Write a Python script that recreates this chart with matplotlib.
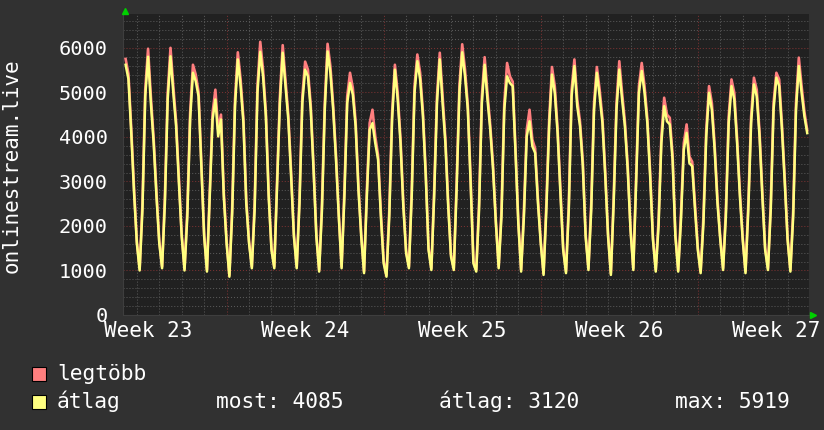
import numpy as np
import matplotlib
matplotlib.use("Agg")
import matplotlib.pyplot as plt
from matplotlib.lines import Line2D
from matplotlib.patches import Rectangle

plt.rcParams['font.family'] = ['DejaVu Sans Mono', 'DejaVu Sans']
plt.rcParams['lines.scale_dashes'] = False

# time axis in hours, 0 = monday of week 24, samples every 3 h
t_start = -108
t_step = 3

# átlag (average), one row per day, 00 03 06 09 12 15 18 21 h
avg = [
    5620, 5300, 4100, 2750,
    1610, 1000, 2360, 4910, 5800, 4760, 3860, 2660,
    1610, 1050, 2510, 4840, 5810, 4990, 4240, 2960,
    1760, 1000, 2210, 4390, 5440, 5250, 4910, 3340,
    1760, 975, 2660, 4390, 4840, 4010, 4390, 2660,
    1610, 860, 2290, 4690, 5740, 5140, 4310, 2510,
    1610, 1050, 2360, 4990, 5910, 5360, 4460, 2660,
    1460, 1050, 2890, 4760, 5890, 5140, 4390, 3110,
    1760, 1050, 2510, 4760, 5510, 5360, 4610, 3260,
    1760, 975, 2360, 4610, 5919, 5440, 4610, 3490,
    2210, 1050, 2660, 4760, 5210, 4950, 4240, 2810,
    1760, 940, 2660, 4160, 4310, 3860, 3490, 2210,
    1160, 860, 2210, 4390, 5510, 4840, 3860, 2440,
    1390, 1050, 2660, 4990, 5700, 5290, 4460, 3110,
    1460, 1010, 2660, 4760, 5740, 4760, 3860, 2440,
    1310, 1010, 2810, 4990, 5900, 5360, 4610, 2960,
    1160, 975, 2360, 4760, 5620, 4840, 4160, 3260,
    2060, 1050, 2210, 4610, 5360, 5210, 5140, 3640,
    2060, 975, 2210, 4010, 4350, 3790, 3640, 2510,
    1610, 900, 2360, 4240, 5400, 4990, 4090, 2740,
    1460, 940, 2360, 4910, 5590, 4690, 4240, 3340,
    1760, 1010, 2360, 4610, 5440, 4910, 4310, 3110,
    1760, 900, 2510, 4610, 5510, 4840, 4240, 3260,
    1910, 1010, 2960, 4990, 5480, 4990, 4310, 3110,
    1690, 975, 1990, 3860, 4690, 4350, 4280, 3490,
    1760, 975, 2140, 3710, 4090, 3410, 3340, 2360,
    1460, 940, 2060, 4010, 4990, 4610, 3710, 2510,
    1690, 1010, 2210, 4310, 5140, 4840, 3860, 2660,
    1690, 940, 2360, 4310, 5180, 4910, 4010, 2660,
    1460, 1010, 2360, 4610, 5330, 5140, 4160, 2960,
    1690, 975, 2210, 4610, 5590, 4990, 4460, 4085,
]

# legtöbb (maximum)
mx = [
    5750, 5420, 4200, 2850,
    1660, 1040, 2510, 5060, 5980, 4910, 3960, 2760,
    1660, 1090, 2660, 4990, 6000, 5140, 4340, 3060,
    1810, 1040, 2360, 4540, 5620, 5400, 5010, 3440,
    1810, 1015, 2810, 4540, 5060, 4160, 4500, 2760,
    1660, 900, 2440, 4840, 5900, 5290, 4410, 2610,
    1660, 1090, 2510, 5140, 6135, 5510, 4560, 2760,
    1510, 1090, 3040, 4910, 6060, 5290, 4490, 3210,
    1810, 1090, 2660, 4910, 5690, 5510, 4710, 3360,
    1810, 1015, 2510, 4760, 6090, 5590, 4710, 3590,
    2260, 1090, 2810, 4910, 5440, 5100, 4340, 2910,
    1810, 980, 2810, 4310, 4610, 4010, 3590, 2310,
    1210, 900, 2360, 4540, 5620, 4990, 3960, 2540,
    1440, 1090, 2810, 5140, 5850, 5440, 4560, 3210,
    1510, 1050, 2810, 4910, 5890, 4910, 3960, 2540,
    1360, 1050, 2960, 5140, 6080, 5510, 4710, 3060,
    1210, 1015, 2510, 4910, 5790, 4990, 4260, 3360,
    2110, 1090, 2360, 4760, 5660, 5360, 5240, 3740,
    2110, 1015, 2360, 4160, 4610, 3940, 3740, 2610,
    1660, 940, 2510, 4390, 5570, 5140, 4190, 2840,
    1510, 980, 2510, 5060, 5740, 4840, 4340, 3440,
    1810, 1050, 2510, 4760, 5570, 5060, 4410, 3210,
    1810, 940, 2660, 4760, 5700, 4990, 4340, 3360,
    1960, 1050, 3110, 5140, 5660, 5140, 4410, 3210,
    1740, 1015, 2140, 4010, 4880, 4500, 4430, 3590,
    1810, 1015, 2290, 3860, 4280, 3560, 3440, 2460,
    1510, 980, 2210, 4160, 5140, 4760, 3810, 2610,
    1740, 1050, 2360, 4460, 5290, 4990, 3960, 2760,
    1740, 980, 2510, 4460, 5330, 5060, 4110, 2760,
    1510, 1050, 2510, 4760, 5440, 5290, 4260, 3060,
    1740, 1015, 2360, 4760, 5780, 5140, 4560, 4150,
]

week_names = ["Week 23", "Week 24", "Week 25", "Week 26", "Week 27"]
week_label_pos = [-84, 84, 252, 420, 588]
stats = ["most: 4085", "átlag: 3120", "max: 5919"]

t = t_start + t_step * np.arange(len(avg))

bg = '#313131'
plot_bg = '#212121'
red = '#ff7f7f'
yellow = '#ffff80'

fig = plt.figure(figsize=(8.24, 4.30), dpi=100, facecolor=bg)
ax = fig.add_axes([123 / 824, 1 - 315 / 430, 686 / 824, 301 / 430])
ax.set_facecolor(plot_bg)
ax.set_xlim(-110.8, 622.9)
ax.set_ylim(0, 6760)

# grid
dots = (0, (0.75, 1.4))
for y in np.arange(200, 6760, 200):
    major = y % 1000 == 0
    ax.axhline(y, color='#7a3232' if major else '#585858', lw=0.75,
               ls=dots, zorder=1)
for d in range(-4, 26):
    major = d % 7 == 0
    ax.axvline(d * 24, color='#7a3232' if major else '#585858', lw=0.75,
               ls=dots, zorder=1)

ax.plot(t, mx, color=red, lw=1.9, zorder=3, solid_joinstyle='round')
ax.plot(t, avg, color=yellow, lw=1.8, zorder=4, solid_joinstyle='round')

for s in ax.spines.values():
    s.set_visible(False)
ax.spines['left'].set_visible(True)
ax.spines['bottom'].set_visible(True)
ax.spines['left'].set_color('#3e3e3e')
ax.spines['bottom'].set_color('#3e3e3e')

ax.set_yticks(range(0, 7000, 1000))
ax.set_yticklabels([str(v) for v in range(0, 7000, 1000)])
ax.set_xticks(week_label_pos)
ax.set_xticklabels(week_names)
ax.tick_params(axis='y', length=0, pad=11, labelsize=14.6, colors='white')
ax.tick_params(axis='x', length=0, pad=4, labelsize=15, colors='white')

fig.text(12 / 824, 1 - 166 / 430, "onlinestream.live", rotation=90,
         color='white', fontsize=15, ha='center', va='center')

# arrows at axis ends
fig.add_artist(Line2D([124.8 / 824], [1 - 10.5 / 430], marker='^', ms=5,
                      color='#00d000', transform=fig.transFigure))
fig.add_artist(Line2D([813 / 824], [1 - 314.5 / 430], marker='>', ms=5,
                      color='#00d000', transform=fig.transFigure))

# legend
for yc, col, name in [(373.5, red, "legtöbb"), (401.5, yellow, "átlag")]:
    fig.add_artist(Rectangle((32 / 824, 1 - (yc + 7) / 430), 14 / 824, 14 / 430,
                             facecolor=col, edgecolor='black', lw=0.8,
                             transform=fig.transFigure))
    fig.text(57 / 824, 1 - yc / 430, name, color='white', fontsize=15.3,
             ha='left', va='center')
for x, s in zip([216, 439, 675], stats):
    fig.text(x / 824, 1 - 401.5 / 430, s, color='white', fontsize=15.3,
             ha='left', va='center')

fig.savefig("out.png", dpi=100, facecolor=bg)
